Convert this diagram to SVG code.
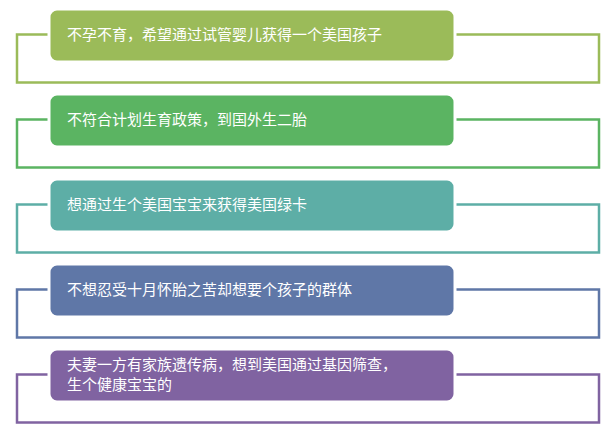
<svg xmlns="http://www.w3.org/2000/svg" width="611" height="425" viewBox="0 0 611 425">
<style>
.o{fill:none;stroke-width:2.5}
.b{stroke:#fff;stroke-width:3}
text{font-family:"Noto Sans CJK SC","Liberation Sans",sans-serif;font-size:15px;fill:#fff}
</style>
<rect width="611" height="425" fill="#fff"/>
<g id="connectors">
<rect class="o" x="17" y="34.5" width="582" height="48" stroke="#9BBB59"/>
<rect class="o" x="17" y="119.5" width="582" height="48" stroke="#5BB462"/>
<rect class="o" x="17" y="204.5" width="582" height="48" stroke="#5DAEA6"/>
<rect class="o" x="17" y="289.5" width="582" height="48" stroke="#5F77A7"/>
<rect class="o" x="17" y="374.5" width="582" height="48" stroke="#8063A1"/>
</g>
<g id="n1"><rect class="b" x="49" y="9" width="406" height="53" rx="8" fill="#9BBB59"/><text x="67" y="40">不孕不育，希望通过试管婴儿获得一个美国孩子</text></g>
<g id="n2"><rect class="b" x="49" y="94" width="406" height="53" rx="8" fill="#5BB462"/><text x="67" y="125">不符合计划生育政策，到国外生二胎</text></g>
<g id="n3"><rect class="b" x="49" y="179" width="406" height="53" rx="8" fill="#5DAEA6"/><text x="67" y="210">想通过生个美国宝宝来获得美国绿卡</text></g>
<g id="n4"><rect class="b" x="49" y="264" width="406" height="53" rx="8" fill="#5F77A7"/><text x="67" y="295">不想忍受十月怀胎之苦却想要个孩子的群体</text></g>
<g id="n5"><rect class="b" x="49" y="349" width="406" height="53" rx="8" fill="#8063A1"/><text x="67" y="370">夫妻一方有家族遗传病，想到美国通过基因筛查，</text><text x="67" y="390">生个健康宝宝的</text></g>
</svg>
